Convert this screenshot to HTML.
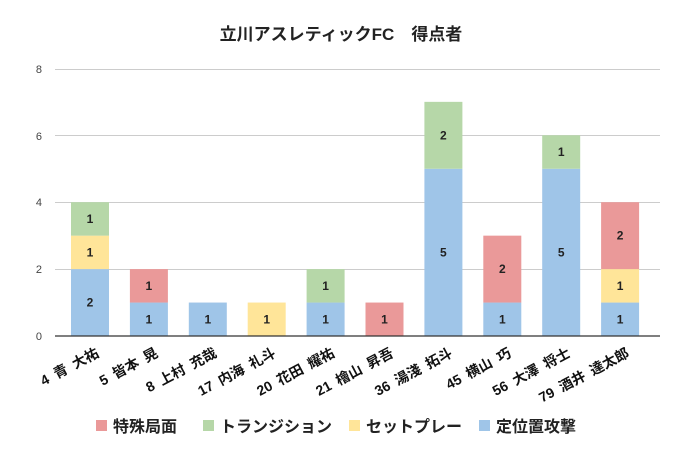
<!DOCTYPE html>
<html><head><meta charset="utf-8"><style>
body{margin:0;background:#fff}
svg text{font-family:"Liberation Sans","Noto Sans CJK JP",sans-serif}
</style></head><body>
<svg width="683" height="460" xmlns="http://www.w3.org/2000/svg">
<rect width="683" height="460" fill="#fff"/>
<text x="341" y="40" text-anchor="middle" font-size="17" font-weight="bold" fill="#222">立川アスレティックFC　得点者</text>
<g stroke="#ccc" stroke-width="1">
<line x1="55" x2="660" y1="69.5" y2="69.5"/>
<line x1="55" x2="660" y1="135.5" y2="135.5"/>
<line x1="55" x2="660" y1="202.5" y2="202.5"/>
<line x1="55" x2="660" y1="269.5" y2="269.5"/>
</g>
<g font-size="11" fill="#444" text-anchor="end">
<text x="42" y="73">8</text><text x="42" y="140">6</text><text x="42" y="206">4</text><text x="42" y="273">2</text><text x="42" y="340">0</text>
</g>
<g id="bars"></g>
<line x1="55" x2="660" y1="336" y2="336" stroke="#333" stroke-width="1.3"/>
<g font-size="14" font-weight="bold" fill="#111" text-anchor="end" id="labels"></g>
<g font-size="16" font-weight="bold" fill="#222">
<rect x="96" y="420" width="11" height="11" fill="#ea9999"/><text x="113" y="432">特殊局面</text>
<rect x="203" y="420" width="11" height="11" fill="#b6d7a8"/><text x="220" y="432">トランジション</text>
<rect x="349" y="420" width="11" height="11" fill="#ffe599"/><text x="366" y="432">セットプレー</text>
<rect x="479" y="420" width="11" height="11" fill="#9fc5e8"/><text x="496" y="432">定位置攻撃</text>
</g>
<script>
var d=[["4\u2002青\u2002大祐",[2,1,1,0]],["5\u2002皆本\u2002晃",[1,0,0,1]],["8\u2002上村\u2002充哉",[1,0,0,0]],["17\u2002内海\u2002礼斗",[0,1,0,0]],["20\u2002花田\u2002耀祐",[1,0,1,0]],["21\u2002檜山\u2002昇吾",[0,0,0,1]],["36\u2002湯淺\u2002拓斗",[5,0,2,0]],["45\u2002横山\u2002巧",[1,0,0,2]],["56\u2002大澤\u2002将士",[5,0,1,0]],["79\u2002酒井\u2002達太郎",[1,1,0,2]]];
var c=["#9fc5e8","#ffe599","#b6d7a8","#ea9999"],u=33.45,ns="http://www.w3.org/2000/svg";
var B=document.getElementById("bars"),L=document.getElementById("labels");
d.forEach(function(r,i){var cx=90+i*58.9,y=336;
r[1].forEach(function(v,k){if(!v)return;var h=v*u;y-=h;
var e=document.createElementNS(ns,"rect");e.setAttribute("x",cx-19);e.setAttribute("y",y);e.setAttribute("width",38);e.setAttribute("height",h);e.setAttribute("fill",c[k]);B.appendChild(e);
var t=document.createElementNS(ns,"text");t.setAttribute("x",cx);t.setAttribute("y",y+h/2+4);t.setAttribute("text-anchor","middle");t.setAttribute("font-size","12");t.setAttribute("font-weight","bold");t.setAttribute("fill","#222");t.textContent=v;B.appendChild(t);});
var t=document.createElementNS(ns,"text");t.setAttribute("transform","translate("+(cx+10)+",356) rotate(-28)");t.textContent=r[0];L.appendChild(t);});
</script>
</svg>
</body></html>
